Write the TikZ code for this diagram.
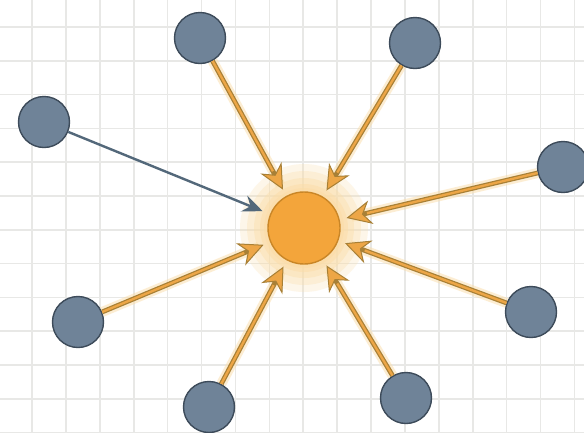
\documentclass[tikz,border=0pt]{standalone}
\usetikzlibrary{arrows.meta}
\definecolor{gridc}{HTML}{E8E8E6}
\definecolor{nodefill}{HTML}{6F8398}
\definecolor{nodeline}{HTML}{3D4B5A}
\definecolor{hubfill}{HTML}{F3A53B}
\definecolor{hubline}{HTML}{C98627}
\definecolor{arrfill}{HTML}{EDA646}
\definecolor{arrline}{HTML}{A88036}
\definecolor{greyarr}{HTML}{53687A}
\definecolor{glowc}{HTML}{FBDDA8}
\tikzset{
  outer/.style={circle, draw=nodeline, fill=nodefill, line width=1.4pt, minimum size=51pt, inner sep=0pt},
  hub/.style={circle, draw=hubline, fill=hubfill, line width=1.4pt, minimum size=72pt, inner sep=0pt},
  glowline/.style={line width=10pt, draw=glowc, opacity=0.5, shorten >=12pt},
  orangeout/.style={line width=4.8pt, draw=arrline, shorten >=7pt,
     -{Stealth[length=25pt,width=24pt,inset=8pt,line width=1pt,fill=arrfill]}},
  orangein/.style={line width=2.3pt, draw=arrfill, shorten >=28pt},
  greyline/.style={line width=2.4pt, draw=greyarr, shorten >=8pt,
     -{Stealth[length=20pt,width=17pt,inset=7pt,fill=greyarr]}}
}
\begin{document}
\begin{tikzpicture}[x=1pt,y=-1pt]
\useasboundingbox (0,0) rectangle (584,432);
\fill[white] (0,0) rectangle (584,432);
% grid
\foreach \i in {0,...,17} {
  \draw[gridc, line width=1.6pt] ({32+33.9*(\i-1)},0) -- ({32+33.9*(\i-1)},432);
}
\foreach \j in {0,...,13} {
  \draw[gridc, line width=1.6pt] (0,{27+33.8*(\j-1)}) -- (584,{27+33.8*(\j-1)});
}
% glow around hub
\foreach \r/\o in {64/0.25,57/0.3,50/0.4,44/0.5,40/0.6} {
  \fill[glowc, opacity=\o] (304,228) circle (\r);
}
\node[hub] (c) at (304,228) {};
% outer nodes
\node[outer] (n1) at (200,38) {};
\node[outer] (n2) at (415,43) {};
\node[outer] (n3) at (44,122) {};
\node[outer] (n4) at (563,167) {};
\node[outer] (n5) at (78,322) {};
\node[outer] (n6) at (531,312) {};
\node[outer] (n7) at (209,407) {};
\node[outer] (n8) at (406,398) {};
% orange arrows
\foreach \n in {n1,n2,n4,n5,n6,n7,n8} {
  \draw[glowline] (\n) -- (c);
}
\foreach \n in {n1,n2,n4,n5,n6,n7,n8} {
  \draw[orangeout] (\n) -- (c);
  \draw[orangein] (\n) -- (c);
}
% grey arrow
\draw[greyline] (n3) -- (c);
\end{tikzpicture}
\end{document}
